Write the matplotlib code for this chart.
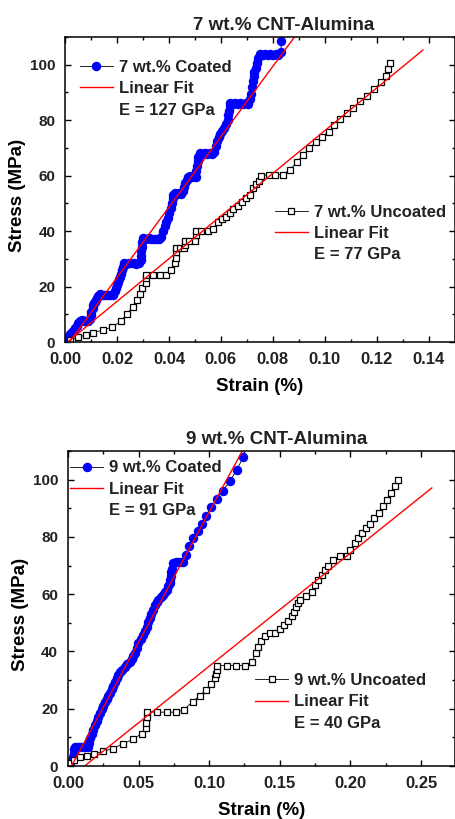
import matplotlib
matplotlib.use("Agg")
import matplotlib.pyplot as plt
from matplotlib.lines import Line2D
from matplotlib.ticker import MultipleLocator

plt.rcParams["font.family"] = ["Liberation Sans", "DejaVu Sans"]
plt.rcParams["font.weight"] = "bold"
plt.rcParams["text.color"] = "#222222"
plt.rcParams["xtick.labelcolor"] = "#222222"
plt.rcParams["ytick.labelcolor"] = "#222222"

# ---- 7 wt.% CNT-Alumina ----
c7_strain = [0.0000, 0.0006, 0.0013, 0.0020, 0.0026, 0.0033, 0.0038, 0.0045, 0.0050, 0.0058,
             0.0066, 0.0074, 0.0082, 0.0090, 0.0096, 0.0099, 0.0102, 0.0106, 0.0109, 0.0112,
             0.0115, 0.0119, 0.0122, 0.0128, 0.0136, 0.0145, 0.0155, 0.0165, 0.0175, 0.0185,
             0.0192, 0.0196, 0.0201, 0.0205, 0.0209, 0.0213, 0.0217, 0.0220, 0.0224, 0.0226,
             0.0235, 0.0245, 0.0255, 0.0265, 0.0275, 0.0285, 0.0292, 0.0294, 0.0294, 0.0296,
             0.0298, 0.0302, 0.0312, 0.0322, 0.0332, 0.0342, 0.0352, 0.0362, 0.0371, 0.0377,
             0.0384, 0.0390, 0.0396, 0.0402, 0.0407, 0.0411, 0.0414, 0.0416, 0.0422, 0.0430,
             0.0438, 0.0446, 0.0454, 0.0458, 0.0462, 0.0468, 0.0473, 0.0481, 0.0489, 0.0497,
             0.0505, 0.0506, 0.0508, 0.0511, 0.0512, 0.0518, 0.0527, 0.0537, 0.0547, 0.0557,
             0.0567, 0.0574, 0.0580, 0.0586, 0.0592, 0.0598, 0.0604, 0.0612, 0.0620, 0.0626,
             0.0629, 0.0631, 0.0633, 0.0636, 0.0645, 0.0655, 0.0665, 0.0675, 0.0685, 0.0695,
             0.0706, 0.0712, 0.0716, 0.0720, 0.0723, 0.0726, 0.0729, 0.0733, 0.0738, 0.0744,
             0.0750, 0.0760, 0.0770, 0.0780, 0.0790, 0.0800, 0.0810, 0.0820, 0.0830, 0.0833]
c7_stress = [0.0, 0.8, 1.9, 2.8, 3.7, 4.4, 5.0, 5.8, 7.0, 7.6,
             7.8, 7.5, 7.6, 7.4, 8.2, 9.8, 11.0, 12.2, 13.2, 14.0,
             14.6, 15.2, 15.8, 16.6, 17.2, 16.8, 17.0, 16.8, 17.1, 17.0,
             18.4, 19.6, 20.6, 21.6, 22.6, 23.6, 24.6, 25.8, 27.2, 28.6,
             28.3, 28.6, 28.4, 28.5, 28.3, 28.6, 29.6, 31.2, 32.8, 34.4,
             36.0, 37.4, 37.1, 37.4, 37.0, 37.3, 37.1, 37.3, 38.0, 40.0,
             41.8, 43.2, 44.8, 46.6, 48.4, 50.2, 51.8, 53.0, 53.8, 53.5,
             53.8, 53.4, 54.4, 56.0, 57.2, 58.4, 59.5, 59.7, 59.4, 59.7,
             59.5, 61.5, 63.4, 65.2, 66.8, 68.0, 67.7, 68.1, 67.8, 68.1,
             67.9, 68.6, 70.6, 72.4, 74.0, 75.2, 76.0, 77.2, 78.6, 80.2,
             81.8, 83.4, 85.0, 86.3, 86.0, 86.3, 86.0, 86.3, 86.0, 86.2,
             86.0, 87.8, 89.6, 91.8, 94.0, 95.8, 97.4, 99.0, 100.8, 102.6,
             103.8, 103.5, 103.8, 103.5, 103.8, 103.5, 103.7, 103.4, 104.6, 108.4]

u7_strain = [0.0019, 0.0051, 0.0081, 0.0109, 0.0145, 0.0181, 0.0214, 0.0237, 0.0261, 0.0278,
             0.0288, 0.0298, 0.0310, 0.0313, 0.0313, 0.0339, 0.0367, 0.0390, 0.0409, 0.0422,
             0.0426, 0.0426, 0.0426, 0.0441, 0.0458, 0.0460, 0.0460, 0.0477, 0.0499, 0.0503,
             0.0506, 0.0524, 0.0550, 0.0569, 0.0588, 0.0605, 0.0618, 0.0633, 0.0648, 0.0665,
             0.0682, 0.0697, 0.0712, 0.0722, 0.0733, 0.0748, 0.0755, 0.0784, 0.0809, 0.0837,
             0.0866, 0.0892, 0.0917, 0.0940, 0.0965, 0.0988, 0.1014, 0.1036, 0.1057, 0.1084,
             0.1110, 0.1135, 0.1163, 0.1189, 0.1215, 0.1234, 0.1244, 0.1249]
u7_stress = [0.7, 1.7, 2.6, 3.4, 4.3, 5.4, 7.4, 10.0, 12.7, 15.3,
             17.4, 19.4, 21.2, 23.0, 24.2, 24.2, 24.2, 24.2, 26.0, 28.4,
             30.2, 32.3, 33.8, 33.8, 33.8, 35.0, 36.5, 36.5, 36.5, 38.6,
             40.2, 40.2, 40.2, 40.7, 43.4, 44.3, 45.2, 46.7, 47.9, 49.2,
             50.4, 51.9, 53.1, 55.5, 57.0, 58.1, 60.0, 60.4, 60.4, 60.4,
             62.1, 64.9, 67.5, 69.9, 72.1, 74.1, 75.7, 78.1, 80.5, 82.6,
             84.4, 86.8, 88.9, 91.2, 93.6, 96.0, 98.6, 100.6]

fit_c7_strain = [0.0017, 0.0883]
fit_c7_stress = [0.0, 110.0]
fit_u7_strain = [0.0010, 0.1377]
fit_u7_stress = [0.0, 105.3]

# ---- 9 wt.% CNT-Alumina ----
c9_strain = [0.0007, 0.0016, 0.0026, 0.0034, 0.0040, 0.0044, 0.0050, 0.0068, 0.0086, 0.0104,
             0.0122, 0.0140, 0.0148, 0.0158, 0.0168, 0.0179, 0.0191, 0.0203, 0.0215, 0.0227,
             0.0239, 0.0250, 0.0262, 0.0274, 0.0285, 0.0297, 0.0309, 0.0321, 0.0333, 0.0345,
             0.0356, 0.0368, 0.0386, 0.0404, 0.0420, 0.0436, 0.0451, 0.0463, 0.0474, 0.0486,
             0.0498, 0.0514, 0.0529, 0.0543, 0.0557, 0.0569, 0.0581, 0.0591, 0.0600, 0.0616,
             0.0628, 0.0640, 0.0656, 0.0671, 0.0685, 0.0699, 0.0711, 0.0722, 0.0725, 0.0727,
             0.0730, 0.0734, 0.0746, 0.0764, 0.0781, 0.0797, 0.0812, 0.0834, 0.0859, 0.0888,
             0.0918, 0.0947, 0.0977, 0.1011, 0.1053, 0.1096, 0.1147, 0.1195, 0.1242]
c9_stress = [0.3, 1.3, 2.2, 3.3, 4.5, 5.8, 6.7, 6.5, 6.8, 6.5,
             6.8, 6.6, 8.2, 9.8, 11.2, 12.6, 14.2, 15.6, 17.0, 18.4,
             19.8, 21.0, 22.2, 23.3, 24.4, 25.6, 26.8, 27.9, 29.3, 30.7,
             31.8, 33.0, 33.6, 34.6, 35.6, 36.4, 37.2, 38.4, 39.6, 41.2,
             42.9, 44.4, 45.9, 47.3, 48.7, 50.2, 51.8, 53.2, 54.6, 56.3,
             57.2, 58.1, 59.0, 59.8, 60.6, 61.5, 62.7, 63.9, 65.1, 66.3,
             67.6, 68.8, 70.8, 71.2, 71.4, 71.2, 71.4, 73.8, 76.7, 79.6,
             81.9, 84.5, 87.4, 90.3, 93.2, 96.2, 99.4, 103.5, 107.8]

u9_strain = [0.0005, 0.0040, 0.0085, 0.0132, 0.0186, 0.0250, 0.0316, 0.0387, 0.0458, 0.0522,
             0.0552, 0.0552, 0.0557, 0.0562, 0.0628, 0.0699, 0.0763, 0.0822, 0.0883, 0.0935,
             0.0977, 0.1013, 0.1041, 0.1048, 0.1053, 0.1058, 0.1124, 0.1190, 0.1254, 0.1301,
             0.1331, 0.1348, 0.1367, 0.1395, 0.1431, 0.1468, 0.1501, 0.1532, 0.1560, 0.1584,
             0.1603, 0.1615, 0.1627, 0.1643, 0.1686, 0.1726, 0.1749, 0.1773, 0.1797, 0.1820,
             0.1844, 0.1879, 0.1926, 0.1974, 0.1997, 0.2033, 0.2056, 0.2080, 0.2110, 0.2139,
             0.2169, 0.2205, 0.2233, 0.2257, 0.2285, 0.2316, 0.2339]
u9_stress = [1.2, 2.2, 3.0, 3.6, 4.3, 5.1, 6.1, 7.7, 9.3, 11.3,
             13.2, 15.1, 17.2, 18.9, 18.8, 18.8, 18.8, 19.7, 22.5, 24.6,
             26.6, 28.7, 30.7, 32.2, 33.6, 35.1, 35.1, 35.1, 35.1, 36.4,
             39.4, 41.5, 43.5, 45.5, 46.4, 46.4, 47.8, 49.3, 50.8, 52.4,
             53.9, 55.7, 57.1, 58.0, 59.2, 60.9, 63.3, 65.0, 66.8, 68.5,
             69.9, 71.8, 73.2, 73.5, 75.5, 77.9, 79.8, 81.4, 83.1, 84.5,
             86.6, 88.4, 90.7, 93.0, 95.3, 97.9, 100.0]

fit_c9_strain = [0.0025, 0.1234]
fit_c9_stress = [0.0, 110.0]
fit_u9_strain = [0.0118, 0.2576]
fit_u9_stress = [0.0, 97.1]


def style_axes(ax, xmax, xmajor):
    ax.set_xlim(0, xmax)
    ax.set_ylim(0, 110)
    ax.xaxis.set_major_locator(MultipleLocator(xmajor))
    ax.xaxis.set_minor_locator(MultipleLocator(xmajor / 2))
    ax.yaxis.set_major_locator(MultipleLocator(20))
    ax.yaxis.set_minor_locator(MultipleLocator(10))
    ax.tick_params(which="both", direction="in", top=True, right=True, width=1.0)
    ax.tick_params(which="major", length=4.5, pad=7)
    ax.tick_params(which="minor", length=2.5)
    ax.tick_params(axis="x", labelsize=12)
    ax.tick_params(axis="y", labelsize=11)
    for sp in ax.spines.values():
        sp.set_linewidth(1.1)
    ax.set_xlabel("Strain (%)", fontsize=13.5, fontweight="bold", labelpad=8)
    ax.set_ylabel("Stress (MPa)", fontsize=13.5, fontweight="bold")
    ax.yaxis.set_label_coords(-0.1, 0.48)


def add_legends(ax, coated, fit1, uncoated, fit2, names, e_vals, pos1, pos2):
    empty = Line2D([], [], linestyle="none")
    kw = dict(loc="upper left", frameon=False, fontsize=12, handlelength=2.0,
              handletextpad=0.35, labelspacing=0.38, borderpad=0, borderaxespad=0)
    leg1 = ax.legend([coated, fit1, empty], [names[0], "Linear Fit", e_vals[0]],
                     bbox_to_anchor=pos1, **kw)
    ax.add_artist(leg1)
    ax.legend([uncoated, fit2, empty], [names[1], "Linear Fit", e_vals[1]],
              bbox_to_anchor=pos2, **kw)


fig = plt.figure(figsize=(4.56, 8.19), dpi=100)
ax1 = fig.add_axes([0.1425, 0.5824, 0.855, 0.3724])
ax2 = fig.add_axes([0.149, 0.0647, 0.8487, 0.3846])

# top panel
l_c7, = ax1.plot(c7_strain, c7_stress, color="k", lw=0.6, marker="o", ms=5.8,
                 mfc="#0000ff", mec="#0000ff")
l_u7, = ax1.plot(u7_strain, u7_stress, color="k", lw=0.6, marker="s", ms=4.5,
                 mfc="white", mec="k", mew=0.9)
f_c7, = ax1.plot(fit_c7_strain, fit_c7_stress, color="#ff0000", lw=1.0)
f_u7, = ax1.plot(fit_u7_strain, fit_u7_stress, color="#ff0000", lw=1.0)
style_axes(ax1, 0.15, 0.02)
ax1.set_title("7 wt.% CNT-Alumina", fontsize=13.5, fontweight="bold", x=0.56, pad=5)
add_legends(ax1, l_c7, f_c7, l_u7, f_u7, ["7 wt.% Coated", "7 wt.% Uncoated"],
            ["E = 127 GPa", "E = 77 GPa"], (0.038, 0.925), (0.538, 0.45))

# bottom panel
l_c9, = ax2.plot(c9_strain, c9_stress, color="k", lw=0.6, marker="o", ms=5.8,
                 mfc="#0000ff", mec="#0000ff")
l_u9, = ax2.plot(u9_strain, u9_stress, color="k", lw=0.6, marker="s", ms=4.5,
                 mfc="white", mec="k", mew=0.9)
f_c9, = ax2.plot(fit_c9_strain, fit_c9_stress, color="#ff0000", lw=1.0)
f_u9, = ax2.plot(fit_u9_strain, fit_u9_stress, color="#ff0000", lw=1.0)
style_axes(ax2, 0.274, 0.05)
ax2.set_title("9 wt.% CNT-Alumina", fontsize=13.5, fontweight="bold", x=0.54, pad=5)
add_legends(ax2, l_c9, f_c9, l_u9, f_u9, ["9 wt.% Coated", "9 wt.% Uncoated"],
            ["E = 91 GPa", "E = 40 GPa"], (0.005, 0.97), (0.483, 0.295))

fig.savefig("out.png", dpi=100)
